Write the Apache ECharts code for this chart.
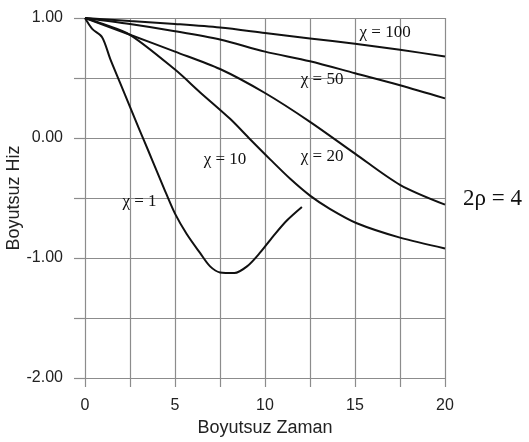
<!DOCTYPE html>
<html>
<head>
<meta charset="utf-8">
<script src="https://cdn.jsdelivr.net/npm/echarts@6/dist/echarts.min.js"></script>
<style>
  html, body { margin: 0; padding: 0; background: #fff; }
  #chart { width: 529px; height: 442px; }
</style>
</head>
<body>
<div id="chart"></div>
<script>
// dimensionless time / dimensionless velocity
const chi1T = [0, 0.4, 0.95, 1.4, 1.95, 2.5, 3.05, 3.5, 4.0, 4.5, 5.0, 5.65, 6.4, 6.95, 7.5, 8.3, 9.0, 9.7, 10.45, 11.2, 12.05];
const chi1V = [1, 0.91, 0.84, 0.66, 0.46, 0.26, 0.06, -0.10, -0.28, -0.46, -0.63, -0.80, -0.96, -1.07, -1.12, -1.125, -1.07, -0.96, -0.82, -0.69, -0.575];

const chi10T = [0, 1, 2.5, 5, 6.4, 8.06, 9.17, 10.3, 11.4, 12.5, 13.6, 15.1, 17.5, 20];
const chi10V = [1, 0.95, 0.86, 0.57, 0.38, 0.16, -0.01, -0.18, -0.34, -0.48, -0.59, -0.71, -0.83, -0.92];

const chi20T = [0, 2.5, 5, 7.5, 10, 12.5, 15, 17.5, 20];
const chi20V = [1, 0.86, 0.72, 0.575, 0.375, 0.135, -0.13, -0.39, -0.555];

const chi50T = [0, 2.5, 5, 7.5, 10, 12.5, 15, 17.5, 20];
const chi50V = [1, 0.95, 0.89, 0.82, 0.72, 0.64, 0.54, 0.44, 0.33];

const chi100T = [0, 2.5, 5, 7.5, 10, 12.5, 15, 17.5, 20];
const chi100V = [1, 0.975, 0.95, 0.92, 0.875, 0.83, 0.785, 0.735, 0.68];

const curveNames = ['χ = 1', 'χ = 10', 'χ = 20', 'χ = 50', 'χ = 100'];

function pairs(t, v) {
  return t.map((x, i) => [x, v[i]]);
}

const gridColor = '#8c8c8c';
const serif = '"Liberation Serif", "DejaVu Serif", serif';
const sans = '"Liberation Sans", Arial, sans-serif';

// where each curve's name sits, in data units
const labelAt = [[3.03, -0.53], [7.78, -0.18], [13.17, -0.155], [13.17, 0.49], [16.67, 0.88]];

const curves = [
  pairs(chi1T, chi1V),
  pairs(chi10T, chi10V),
  pairs(chi20T, chi20V),
  pairs(chi50T, chi50V),
  pairs(chi100T, chi100V)
];

var myChart = echarts.init(document.getElementById('chart'));

option = {
  animation: false,
  grid: { left: 85, right: 84, top: 18, bottom: 64, outerBoundsMode: 'none', containLabel: false },
  xAxis: {
    type: 'value',
    min: 0,
    max: 20,
    interval: 2.5,
    name: 'Boyutsuz Zaman',
    nameLocation: 'middle',
    nameGap: 41,
    nameMoveOverlap: false,
    nameTextStyle: { fontFamily: sans, fontSize: 18, color: '#222' },
    axisLine: { show: false, onZero: false },
    axisTick: { show: true, length: 9, lineStyle: { color: gridColor, width: 1.2 } },
    axisLabel: {
      margin: 20,
      fontFamily: sans,
      fontSize: 16,
      color: '#222',
      formatter: v => (v % 5 === 0 ? String(v) : '')
    },
    splitLine: { show: true, lineStyle: { color: gridColor, width: 1.2 } }
  },
  yAxis: {
    type: 'value',
    min: -2,
    max: 1,
    interval: 0.5,
    name: 'Boyutsuz Hiz',
    nameLocation: 'middle',
    nameGap: 62,
    nameMoveOverlap: false,
    nameTextStyle: { fontFamily: sans, fontSize: 18, color: '#222' },
    axisLine: { show: false, onZero: false },
    axisTick: { show: true, length: 11, lineStyle: { color: gridColor, width: 1.2 } },
    axisLabel: {
      margin: 22,
      fontFamily: sans,
      fontSize: 16,
      color: '#222',
      formatter: v => (v % 1 === 0 ? v.toFixed(2) : '')
    },
    splitLine: { show: true, lineStyle: { color: gridColor, width: 1.2 } }
  },
  series: curves.map((d, i) => ({
    type: 'line',
    name: curveNames[i],
    data: d,
    smooth: 0.3,
    showSymbol: false,
    lineStyle: { color: '#111', width: 2 },
    markPoint: {
      symbol: 'circle',
      symbolSize: 0,
      silent: true,
      data: [{
        coord: labelAt[i],
        label: {
          show: true,
          position: 'inside',
          formatter: curveNames[i],
          fontFamily: serif,
          fontSize: 17,
          color: '#111'
        }
      }]
    }
  })),
  graphic: [{
    type: 'text',
    left: 463,
    top: 187,
    style: { text: '2ρ = 4', font: '23px ' + serif, fill: '#111' }
  }]
};

myChart.setOption(option);
</script>
</body>
</html>
